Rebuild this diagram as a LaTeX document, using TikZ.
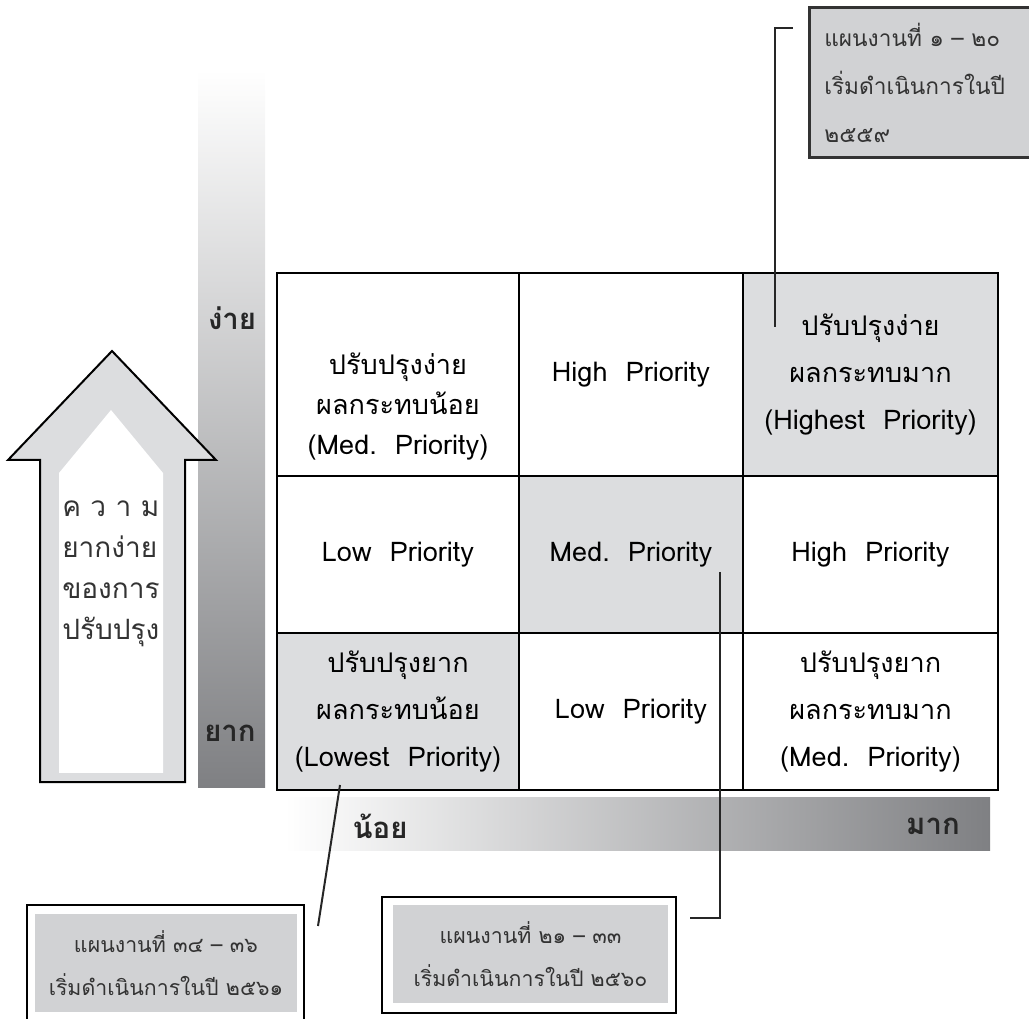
\documentclass[tikz,border=0pt]{standalone}
\usepackage{fontspec}
\setmainfont[Script=Thai]{Loma}
\usetikzlibrary{positioning}
\usepackage{xcolor}
\definecolor{cellgray}{HTML}{DCDDDF}
\definecolor{notegray}{HTML}{D1D2D4}
\definecolor{bardark}{HTML}{7F8083}
\definecolor{inkgray}{HTML}{333333}
\newcommand{\entext}[1]{{\fontsize{20.3}{35}\selectfont #1}}

\tikzset{
  cell/.style={draw, line width=1pt, inner sep=0pt, outer sep=0pt, align=center,
    font=\fontsize{20.3}{35}\selectfont},
  rowtop/.style={minimum height=152.25pt},
  rowlow/.style={minimum height=117.75pt},
  barlabel/.style={font=\fontsize{22}{24}\selectfont\bfseries, text=black!85},
  note/.style={fill=notegray, align=center, inner sep=0pt, text=inkgray,
    font=\fontsize{16}{32}\selectfont},
  callout/.style={line width=1.5pt, black!85},
}

\begin{document}
\begin{tikzpicture}[x=0.75pt, y=-0.75pt]
\useasboundingbox (0,0) rectangle (1029,1019);

% gradient scales
\shade[top color=white, bottom color=bardark] (198,70) rectangle (265,787);
\shade[left color=white, right color=bardark] (285,797) rectangle (990,850);
\node (easy) at (232,318) [barlabel] {ง่าย};
\node (hard) at (230,733) [barlabel] {ยาก};
\node (few) at (380,826) [barlabel] {น้อย};
\node (much) at (933,826) [barlabel] {มาก};

% big arrow
\draw[line width=1.5pt, fill=cellgray, line join=miter] (40,782) -- (40,460) -- (8,460) -- (112,351)
  -- (216,460) -- (185,460) -- (185,782) -- cycle;
\fill[white] (59,773) -- (59,473) -- (111,410) -- (163,473) -- (163,773) -- cycle;
\node (axis) [anchor=west, align=left, inner sep=0pt, text=inkgray,
  font=\fontsize{21}{30.75}\selectfont] at (62,574) {ค ว า ม\\ยากง่าย\\ของการ\\ปรับปรุง};

% priority matrix
\node (c11) [cell, rowtop, minimum width=181.5pt, anchor=north west] at (277,273) {};
\node (c12) [cell, rowtop, minimum width=168pt, right=0pt of c11] {\entext{High~~Priority}};
\node (c13) [cell, rowtop, minimum width=191.25pt, right=0pt of c12, fill=cellgray]
  {ปรับปรุงง่าย\\ผลกระทบมาก\\\entext{(Highest~~Priority)}};
\node (c21) [cell, rowlow, minimum width=181.5pt, below=0pt of c11] {\entext{Low~~Priority}};
\node (c22) [cell, rowlow, minimum width=168pt, right=0pt of c21, fill=cellgray] {\entext{Med.~~Priority}};
\node (c23) [cell, rowlow, minimum width=191.25pt, right=0pt of c22] {\entext{High~~Priority}};
\node (c31) [cell, rowlow, minimum width=181.5pt, below=0pt of c21, fill=cellgray]
  {ปรับปรุงยาก\\ผลกระทบน้อย\\\entext{(Lowest~~Priority)}};
\node (c32) [cell, rowlow, minimum width=168pt, right=0pt of c31] {\entext{Low~~Priority}};
\node (c33) [cell, rowlow, minimum width=191.25pt, right=0pt of c32]
  {ปรับปรุงยาก\\ผลกระทบมาก\\\entext{(Med.~~Priority)}};
\node (t11) at ([yshift=-24pt]c11.center) [align=center, font=\fontsize{20.3}{30}\selectfont]
  {ปรับปรุงง่าย\\ผลกระทบน้อย\\\entext{(Med.~~Priority)}};

% plan notes
\node (note1) [anchor=north west, draw=black!80, line width=2.5pt, fill=notegray, align=left,
  text width=145pt, inner xsep=11pt, minimum height=112.5pt, text=inkgray,
  font=\fontsize{17}{36}\selectfont] at (808,6)
  {แผนงานที่ ๑ – ๒๐\\เริ่มดำเนินการในปี\\๒๕๕๙};
\node (note3) [note, minimum width=196.5pt, minimum height=73.5pt] at (166,963)
  {แผนงานที่ ๓๔ – ๓๖\\เริ่มดำเนินการในปี ๒๕๖๑};
\node (note2) [note, minimum width=206.25pt, minimum height=73.5pt] at (530.5,954)
  {แผนงานที่ ๒๑ – ๓๓\\เริ่มดำเนินการในปี ๒๕๖๐};
\draw[line width=1.2pt] ([shift={(-6pt,6.75pt)}]note3.north west) rectangle ([shift={(5.25pt,-30pt)}]note3.south east);
\draw[line width=1.2pt] ([shift={(-8.25pt,6pt)}]note2.north west) rectangle ([shift={(6pt,-7.5pt)}]note2.south east);

% callout lines
\coordinate (tip1) at (775,327);
\coordinate (end1) at (793,28);
\coordinate (tip2) at (720,572);
\coordinate (end2) at (690,918);
\coordinate (tip3) at (340,785);
\coordinate (end3) at (318,926);
\draw[callout] (tip1) |- (end1);
\draw[callout] (tip2) |- (end2);
\draw[callout] (tip3) -- (end3);
\end{tikzpicture}
\end{document}
